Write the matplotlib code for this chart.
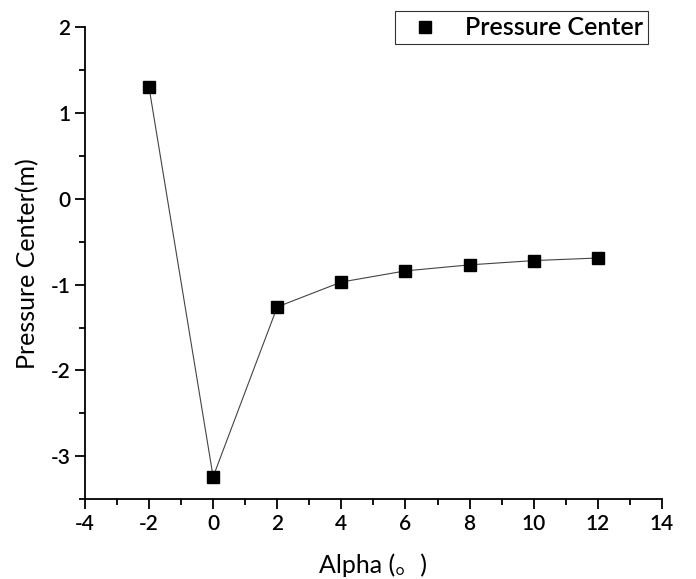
import matplotlib
matplotlib.use("Agg")
import matplotlib.pyplot as plt
from matplotlib.ticker import MultipleLocator

alpha = [-2, 0, 2, 4, 6, 8, 10, 12]
pressure_center = [1.30, -3.24, -1.26, -0.97, -0.84, -0.77, -0.72, -0.69]

plt.rcParams['font.family'] = ['Lato', 'Noto Sans CJK SC', 'DejaVu Sans']
plt.rcParams['font.weight'] = 'semibold'
plt.rcParams['axes.unicode_minus'] = False

fig = plt.figure(figsize=(6.96, 5.79), dpi=100)
ax = fig.add_axes([0.122, 0.138, 0.829, 0.815])

ax.plot(alpha, pressure_center, color='#444444', linewidth=0.8, marker='s',
        markersize=8, markerfacecolor='black', markeredgecolor='black',
        label='Pressure Center')

ax.set_xlim(-4, 14)
ax.set_ylim(-3.5, 2)
ax.xaxis.set_major_locator(MultipleLocator(2))
ax.xaxis.set_minor_locator(MultipleLocator(1))
ax.yaxis.set_major_locator(MultipleLocator(1))
ax.yaxis.set_minor_locator(MultipleLocator(0.5))
ax.spines['top'].set_visible(False)
ax.spines['right'].set_visible(False)
for s in ['left', 'bottom']:
    ax.spines[s].set_linewidth(1.3)
ax.tick_params(which='major', direction='out', length=7, width=1.3, labelsize=15)
ax.tick_params(which='minor', direction='out', length=4, width=1.3)

ax.set_xlabel('Alpha (。)', fontsize=18, labelpad=14)
ax.set_ylabel('Pressure Center(m)', fontsize=18, labelpad=8)

leg = ax.legend(loc='upper right', bbox_to_anchor=(0.997, 1.06), fontsize=18,
                frameon=True, fancybox=False, edgecolor='black', handlelength=2.0,
                handletextpad=0.6, borderpad=0.2)
leg.get_frame().set_linewidth(0.8)
for line in leg.get_lines():
    line.set_linestyle('none')

fig.savefig('out.png', dpi=100)
